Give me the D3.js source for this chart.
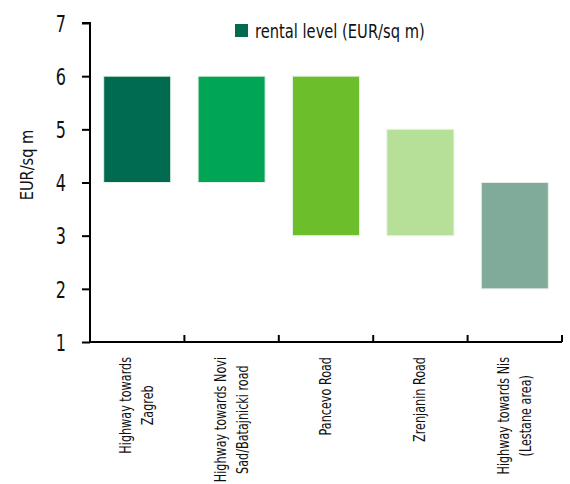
<!DOCTYPE html>
<html>
<head>
<meta charset="utf-8">
<script src="https://cdn.jsdelivr.net/npm/d3@7"></script>
<style>
  body { margin: 0; background: #fff; }
  svg text { font-family: "Liberation Sans Narrow", "DejaVu Sans Condensed", sans-serif; font-stretch: condensed; fill: #111; }
</style>
</head>
<body>
<svg id="chart" width="570" height="484"></svg>
<script>
var categories = [
  ["Highway towards", "Zagreb"],
  ["Highway towards Novi", "Sad/Batajnicki road"],
  ["Pancevo Road"],
  ["Zrenjanin Road"],
  ["Highway towards Nis", "(Lestane area)"]
];
var lowValues = [4, 4, 3, 3, 2];
var highValues = [6, 6, 6, 5, 4];
var colors = ["#006b4e", "#00a556", "#6cbe2b", "#b6df97", "#80ab9a"];
var yTicks = [1, 2, 3, 4, 5, 6, 7];

var svg = d3.select("#chart");
var margin = {top: 23, right: 8, bottom: 142, left: 90};
var width = 570 - margin.left - margin.right;
var height = 484 - margin.top - margin.bottom;
var g = svg.append("g").attr("transform", "translate(" + margin.left + "," + margin.top + ")");

var x = d3.scaleBand().domain(d3.range(categories.length)).range([0, width]).paddingInner(0.29).paddingOuter(0.145);
var y = d3.scaleLinear().domain([1, 7]).range([height, 0]);

// bars
g.selectAll(".bar").data(lowValues).enter().append("rect")
  .attr("class", "bar")
  .attr("x", function(d, i) { return x(i); })
  .attr("y", function(d, i) { return y(highValues[i]); })
  .attr("width", x.bandwidth())
  .attr("height", function(d, i) { return y(d) - y(highValues[i]); })
  .attr("fill", function(d, i) { return colors[i]; })
  .attr("stroke", "#e6f0e6")
  .attr("stroke-width", 1);

// y axis
var yAxis = g.append("g").call(d3.axisLeft(y).tickValues(yTicks).tickSize(8).tickFormat(d3.format("d")));
yAxis.select(".domain").attr("stroke", "#000").attr("stroke-width", 2).attr("d", "M0," + height + "V0H-8");
yAxis.selectAll(".tick line").attr("stroke", "#000").attr("stroke-width", 2);
yAxis.selectAll(".tick text")
  .attr("transform", "scale(0.85,1.1)")
  .attr("x", -24 / 0.85).attr("y", 0).attr("dy", "0.36em")
  .style("font-size", "21px");

// x axis with ticks at band edges, pointing up
var edges = x.domain().map(function(i) { return x(i) - x.step() * x.paddingInner() / 2; }).concat([width]);
var xg = g.append("g").attr("transform", "translate(0," + height + ")");
xg.append("line").attr("x1", 0).attr("x2", width).attr("stroke", "#000").attr("stroke-width", 2);
xg.selectAll(".edge").data(edges.slice(1)).enter().append("line")
  .attr("x1", function(d) { return d; }).attr("x2", function(d) { return d; })
  .attr("y1", -7).attr("y2", 0)
  .attr("stroke", "#000").attr("stroke-width", 2);

// category labels, rotated, lines centred on each other, block top just below axis
var lineGap = 22;
var labels = xg.selectAll(".cat").data(categories).enter().append("text")
  .attr("class", "cat")
  .attr("transform", function(d, i) {
    var cx = x(i) + x.bandwidth() / 2;
    return "translate(" + cx + ",15) rotate(-90) scale(0.78,1)";
  })
  .attr("text-anchor", "middle")
  .style("font-size", "16px");
labels.selectAll("tspan").data(function(d) { return d; }).enter().append("tspan")
  .attr("y", function(d, j, nodes) {
    var n = nodes.length;
    return (j - (n - 1) / 2) * lineGap + 5;
  })
  .text(function(d) { return d; });
labels.each(function() {
  var spans = d3.select(this).selectAll("tspan");
  var maxLen = d3.max(spans.nodes(), function(n) { return n.getComputedTextLength(); });
  spans.attr("x", -maxLen / 2);
});

// y axis title
svg.append("text")
  .attr("transform", "translate(33,165) rotate(-90) scale(0.9,1)")
  .attr("text-anchor", "middle")
  .style("font-size", "18px")
  .text("EUR/sq m");

// legend
var legend = svg.append("g").attr("transform", "translate(235,24)");
legend.append("rect").attr("width", 13).attr("height", 13).attr("fill", colors[0]);
legend.append("text").attr("transform", "translate(20,14) scale(0.86,1)").style("font-size", "19px").text("rental level (EUR/sq m)");
</script>
</body>
</html>
